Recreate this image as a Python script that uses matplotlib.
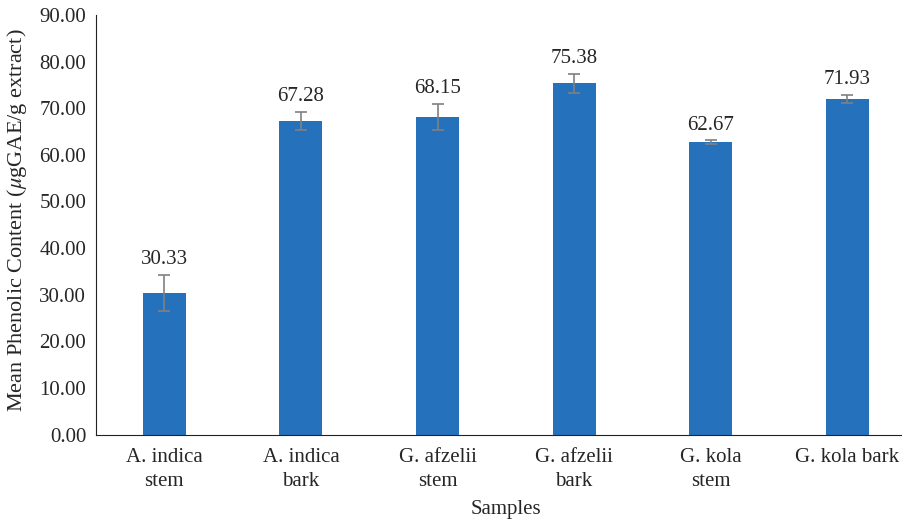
import matplotlib
matplotlib.use("Agg")
import matplotlib.pyplot as plt
import numpy as np

samples = ["A. indica\nstem", "A. indica\nbark", "G. afzelii\nstem",
           "G. afzelii\nbark", "G. kola\nstem", "G. kola bark"]
means = [30.33, 67.28, 68.15, 75.38, 62.67, 71.93]
errors = [3.9, 1.95, 2.85, 2.05, 0.45, 0.9]

plt.rcParams['font.family'] = ['Liberation Serif', 'DejaVu Serif']
plt.rcParams['mathtext.fontset'] = 'stix'
txt = '#262626'

fig = plt.figure(figsize=(9.03, 5.19), dpi=100)
ax = fig.add_axes([0.1063, 0.1628, 0.9077, 0.8083])

x = np.arange(len(samples))
ax.bar(x, means, width=0.315, color='#2571BC', zorder=2)
ax.errorbar(x, means, yerr=errors, fmt='none', ecolor='#808080',
            elinewidth=1.2, capsize=4, capthick=1.2, zorder=3)

for xi, m, e in zip(x, means, errors):
    ax.annotate(f"{m:.2f}", (xi, m + e), xytext=(0, 4), textcoords='offset points',
                ha='center', va='bottom', fontsize=15, color=txt)

ax.set_xlim(-0.5, len(samples) - 0.5)
ax.set_ylim(0, 90)
ax.set_yticks(np.arange(0, 91, 10))
ax.set_yticklabels([f"{v:.2f}" for v in np.arange(0, 91, 10)])
ax.set_xticks(x)
ax.set_xticklabels(samples, linespacing=1.37)
ax.tick_params(axis='both', length=0, labelsize=15, colors=txt)
ax.tick_params(axis='y', pad=7)
ax.tick_params(axis='x', pad=9.5)
ax.spines['top'].set_visible(False)
ax.spines['right'].set_visible(False)
ax.spines['left'].set_color('#222222')
ax.spines['bottom'].set_color('#222222')
ax.set_xlabel("Samples", fontsize=15, color=txt, labelpad=6.5)
ax.set_ylabel(r"Mean Phenolic Content ($\mu$gGAE/g extract)", fontsize=16, color=txt)
ax.yaxis.set_label_coords(-0.082, 0.51)

fig.savefig("out.png", dpi=100)
